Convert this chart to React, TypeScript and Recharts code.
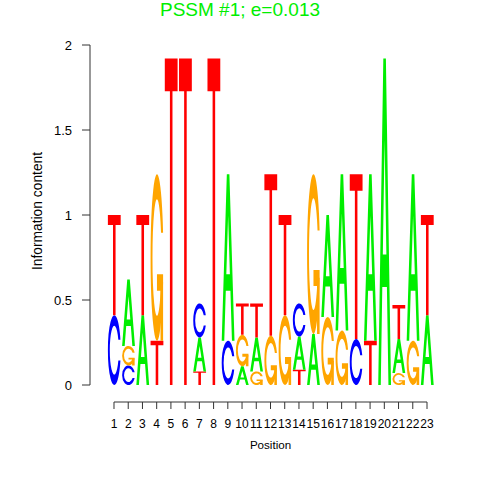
import React from 'react';
import { BarChart, Bar, XAxis, YAxis, ReferenceLine } from 'recharts';

// ---- data (bits per letter at each position) ----
const POSITIONS = [1, 2, 3, 4, 5, 6, 7, 8, 9, 10, 11, 12, 13, 14, 15, 16, 17, 18, 19, 20, 21, 22, 23];
const A_BITS = [0, 0.39, 0.41, 0, 0, 0, 0.2, 0, 0.98, 0.11, 0.2, 0, 0, 0.195, 0.3, 0.6, 0.92, 0, 0.98, 1.92, 0.2, 0.98, 0.41];
const C_BITS = [0.41, 0.115, 0, 0, 0, 0, 0.2, 0, 0.26, 0, 0, 0, 0, 0.195, 0, 0, 0, 0.27, 0, 0, 0, 0, 0];
const G_BITS = [0, 0.115, 0, 0.98, 0, 0, 0, 0, 0, 0.185, 0.08, 0.29, 0.41, 0, 0.94, 0.4, 0.32, 0, 0, 0, 0.07, 0.26, 0];
const T_BITS = [0.59, 0, 0.59, 0.26, 1.92, 1.92, 0.08, 1.92, 0, 0.185, 0.2, 0.95, 0.59, 0.09, 0, 0, 0, 0.97, 0.26, 0, 0.2, 0, 0.59];
const Y_TICKS = [0, 0.5, 1, 1.5, 2];
const TITLE = 'PSSM #1; e=0.013';
const X_LABEL = 'Position';
const Y_LABEL = 'Information content';

// ---- styling / layout ----
const W = 480;
const H = 480;
const MARGIN = { top: 45, right: 29, bottom: 48, left: 50 };
const Y_AXIS_W = 40;
const X_AXIS_H = 30;
const X_MIN = -0.6869;
const X_MAX = 24.6869;
const Y_MIN = -0.1;
const Y_MAX = 2;
const PLOT_W = W - MARGIN.left - MARGIN.right - Y_AXIS_W;
const BAR_W = PLOT_W / (X_MAX - X_MIN);
const FONT = '"Liberation Sans", Arial, Helvetica, sans-serif';
const AXIS_COLOR = '#333333';

const COLORS: Record<string, string> = {
  A: '#00EE00',
  C: '#0000FF',
  G: '#FFA500',
  T: '#FF0000',
};

// glyph outlines in a unit box (y down)
const C_PATH = 'M0.978,0.352 A0.5,0.5 0 1 0 0.978,0.648 L0.817,0.648 A0.35,0.35 0 1 1 0.817,0.352 Z';
const GLYPHS: Record<string, string[]> = {
  A: ['M0,1 L0.4,0 L0.6,0 L1,1 L0.8,1 L0.68,0.7 L0.32,0.7 L0.2,1 Z M0.36,0.6 L0.5,0.25 L0.64,0.6 Z'],
  C: [C_PATH],
  G: [C_PATH, 'M0.978,0.6 L0.5,0.6 L0.5,0.7 L0.778,0.7 L0.778,1 L0.978,1 Z'],
  T: ['M0,0 L1,0 L1,0.1 L0.6,0.1 L0.6,1 L0.4,1 L0.4,0.1 L0,0.1 Z'],
};

const LETTERS = ['A', 'C', 'G', 'T'];
const BITS: Record<string, number[]> = { A: A_BITS, C: C_BITS, G: G_BITS, T: T_BITS };

const rows = POSITIONS.map((pos, i) => {
  const stack = LETTERS.map((l) => ({ l, v: BITS[l][i] }))
    .filter((d) => d.v > 0)
    .sort((a, b) => a.v - b.v);
  const row: Record<string, any> = { pos };
  for (let k = 0; k < 4; k++) {
    row[`h${k}`] = stack[k] ? stack[k].v : 0;
    row[`l${k}`] = stack[k] ? stack[k].l : null;
  }
  return row;
});

const makeShape = (layer: number) => (props: any) => {
  const { x, y, width, height, payload } = props;
  const letter = payload ? payload[`l${layer}`] : null;
  if (!letter || !height || height <= 0) return <g />;
  return (
    <g transform={`translate(${x} ${y}) scale(${width} ${height})`}>
      {GLYPHS[letter].map((d, i) => (
        <path key={i} d={d} fill={COLORS[letter]} fillRule="evenodd" stroke="none" />
      ))}
    </g>
  );
};

export default function App() {
  return (
    <div style={{ position: 'absolute', left: 0, top: 0, width: W, height: H, background: '#fff' }}>
      <BarChart
        width={W}
        height={H}
        data={rows}
        margin={MARGIN}
        barCategoryGap={0}
        barGap={0}
      >
        <XAxis
          dataKey="pos"
          type="number"
          domain={[X_MIN, X_MAX]}
          allowDataOverflow
          ticks={POSITIONS}
          interval={0}
          height={X_AXIS_H}
          axisLine={false}
          tickLine={{ stroke: AXIS_COLOR }}
          tickSize={7}
          tickMargin={10}
          tick={{ fontSize: 12, fill: '#000', fontFamily: FONT }}
        />
        <YAxis
          type="number"
          domain={[Y_MIN, Y_MAX]}
          allowDataOverflow
          ticks={Y_TICKS}
          interval={0}
          width={Y_AXIS_W}
          axisLine={false}
          tickLine={{ stroke: AXIS_COLOR }}
          tickSize={8}
          tickMargin={10}
          tick={{ fontSize: 13, fill: '#000', fontFamily: FONT }}
        />
        <ReferenceLine
          segment={[{ x: X_MIN, y: Y_TICKS[0] }, { x: X_MIN, y: Y_TICKS[Y_TICKS.length - 1] }]}
          stroke={AXIS_COLOR}
          ifOverflow="visible"
        />
        <ReferenceLine
          segment={[{ x: POSITIONS[0], y: Y_MIN }, { x: POSITIONS[POSITIONS.length - 1], y: Y_MIN }]}
          stroke={AXIS_COLOR}
          ifOverflow="visible"
        />
        {[0, 1, 2, 3].map((k) => (
          <Bar
            key={k}
            dataKey={`h${k}`}
            stackId="logo"
            barSize={BAR_W}
            isAnimationActive={false}
            shape={makeShape(k)}
          />
        ))}
      </BarChart>
      <svg
        width={W}
        height={H}
        style={{ position: 'absolute', left: 0, top: 0, pointerEvents: 'none' }}
      >
        <text x={240} y={16} textAnchor="middle" fontSize={19} fill="#00EE00" fontFamily={FONT}>
          {TITLE}
        </text>
        <text x={270.5} y={449} textAnchor="middle" fontSize={11.6} fill="#000" fontFamily={FONT}>
          {X_LABEL}
        </text>
        <text
          x={0}
          y={0}
          transform="translate(41.5 211) rotate(-90)"
          textAnchor="middle"
          fontSize={13.8}
          fill="#000"
          fontFamily={FONT}
        >
          {Y_LABEL}
        </text>
      </svg>
    </div>
  );
}
